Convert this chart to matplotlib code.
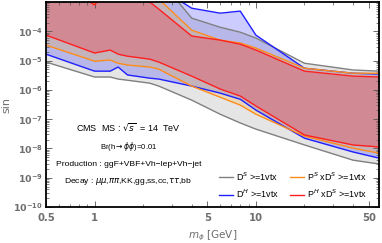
import numpy as np
import matplotlib
matplotlib.use("Agg")
import matplotlib.pyplot as plt
from matplotlib.ticker import FixedLocator, LogLocator, NullFormatter

# mass points [GeV]
mass = [0.5, 1.0, 1.25, 1.4, 1.6, 2.2, 2.5, 4, 6, 8, 10, 20, 40, 58]

# log10 of the limits
ds_lo = [-5.05, -5.56, -5.56, -5.63, -5.67, -5.77, -5.87, -6.35, -6.83, -7.13, -7.34, -7.88, -8.40, -8.53]
ds_hi = [-2.2, -2.2, -2.2, -2.2, -2.2, -2.2, -2.2, -3.55, -3.86, -4.03, -4.23, -5.09, -5.32, -5.36]
dh_lo = [-4.78, -5.36, -5.36, -5.22, -5.49, -5.60, -5.63, -5.87, -6.11, -6.32, -6.69, -7.65, -8.12, -8.33]
dh_hi = [-2.5, -2.5, -2.5, -2.5, -2.5, -2.5, -2.5, -3.21, -3.38, -3.31, -4.13, -5.26, -5.43, -5.46]
ps_lo = [-4.47, -5.02, -4.98, -5.09, -5.15, -5.22, -5.29, -5.87, -6.25, -6.52, -6.83, -7.58, -7.99, -8.16]
ps_hi = [-2.0, -3.05, -2.5, -2.5, -2.5, -2.7, -2.9, -3.96, -4.30, -4.40, -4.57, -5.26, -5.43, -5.43]
ph_lo = [-4.13, -4.74, -4.64, -4.78, -4.85, -4.95, -5.05, -5.53, -5.97, -6.21, -6.55, -7.54, -7.88, -7.95]
ph_hi = [-2.0, -3.10, -2.5, -2.5, -2.5, -3.0, -3.24, -4.16, -4.30, -4.44, -4.64, -5.36, -5.53, -5.56]

m = np.array(mass)
series = [
    (ds_lo, ds_hi, "#808080", "#808080", 0.2, r"D$^{S}$ >=1vtx"),
    (dh_lo, dh_hi, "#2020ff", "#0000ff", 0.2, r"D$^{H}$ >=1vtx"),
    (ps_lo, ps_hi, "#ff8c1a", "#ffa500", 0.2, r"P$^{S}$ xD$^{S}$ >=1vtx"),
    (ph_lo, ph_hi, "#ff2020", "#de606c", 0.5, r"P$^{H}$ xD$^{S}$ >=1vtx"),
]

fig = plt.figure(figsize=(3.82, 2.43), dpi=100)
ax = fig.add_axes([0.1204, 0.148, 0.872, 0.8436])

handles = []
for lo, hi, lc, fc, a, lab in series:
    ylo = 10.0 ** np.array(lo)
    yhi = 10.0 ** np.array(hi)
    ax.fill_between(m, ylo, yhi, color=fc, alpha=a, lw=0)
    h, = ax.plot(m, ylo, color=lc, lw=1.0, label=lab)
    ax.plot(m, yhi, color=lc, lw=1.0)
    handles.append(h)

ax.set_xscale("log")
ax.set_yscale("log")
ax.set_xlim(0.5, 58)
ax.set_ylim(1e-10, 1e-3)

gray = "#6e6e6e"
ax.xaxis.set_major_locator(FixedLocator([0.5, 1, 5, 10, 50]))
ax.set_xticklabels(["0.5", "1", "5", "10", "50"])
ax.xaxis.set_minor_locator(FixedLocator([0.6, 0.7, 0.8, 0.9, 2, 3, 4, 6, 7, 8, 9, 20, 30, 40]))
ax.xaxis.set_minor_formatter(NullFormatter())
yt = [10.0 ** k for k in range(-10, -3)]
ax.yaxis.set_major_locator(FixedLocator(yt))
ax.set_yticklabels([r"$\mathbf{10^{%d}}$" % k for k in range(-10, -3)])
ax.yaxis.set_minor_locator(LogLocator(base=10, subs=np.arange(2, 10), numticks=20))
ax.yaxis.set_minor_formatter(NullFormatter())

ax.tick_params(which="both", direction="in", top=True, right=True, colors="#555555",
               labelcolor=gray)
ax.tick_params(axis="y", labelsize=6.8, pad=2)
ax.tick_params(axis="x", labelsize=7.2, pad=4)
ax.tick_params(which="major", length=4, width=0.6)
ax.tick_params(which="minor", length=2, width=0.5)
for lbl in ax.get_xticklabels():
    lbl.set_fontweight("bold")
for sp in ax.spines.values():
    sp.set_linewidth(1.3)
    sp.set_color("black")

ax.set_xlabel(r"$m_{\phi}$ [GeV]", color=gray, fontsize=7.5, labelpad=4)
ax.set_ylabel("sin", color=gray, fontsize=8)
ax.yaxis.set_label_coords(-0.105, 0.5)

tx = 0.247
ax.text(tx, 0.39, r"CMS  MS : $\sqrt{s}$  = 14  TeV", transform=ax.transAxes,
        ha="center", va="center", fontsize=6.5, family="Liberation Sans")
ax.text(tx, 0.295, r"Br(h$\rightarrow\phi\phi$)=0.01", transform=ax.transAxes,
        ha="center", va="center", fontsize=5.5, family="Liberation Sans")
ax.text(tx, 0.207, "Production : ggF+VBF+Vh\u2212lep+Vh\u2212jet", transform=ax.transAxes,
        ha="center", va="center", fontsize=6.1, family="Liberation Sans")
ax.text(tx, 0.125, r"Decay : $\mu\mu$,$\pi\pi$,KK,gg,ss,cc,$\tau\tau$,bb", transform=ax.transAxes,
        ha="center", va="center", fontsize=6.1, family="Liberation Sans")

ax.legend(handles=handles, ncol=2, loc="lower right", bbox_to_anchor=(0.99, -0.005),
          frameon=False, handlelength=1.5, handletextpad=0.4,
          columnspacing=1.2, labelspacing=0.55, prop={"family": "Liberation Sans", "size": 6.5})

fig.savefig("out.png", dpi=100)
